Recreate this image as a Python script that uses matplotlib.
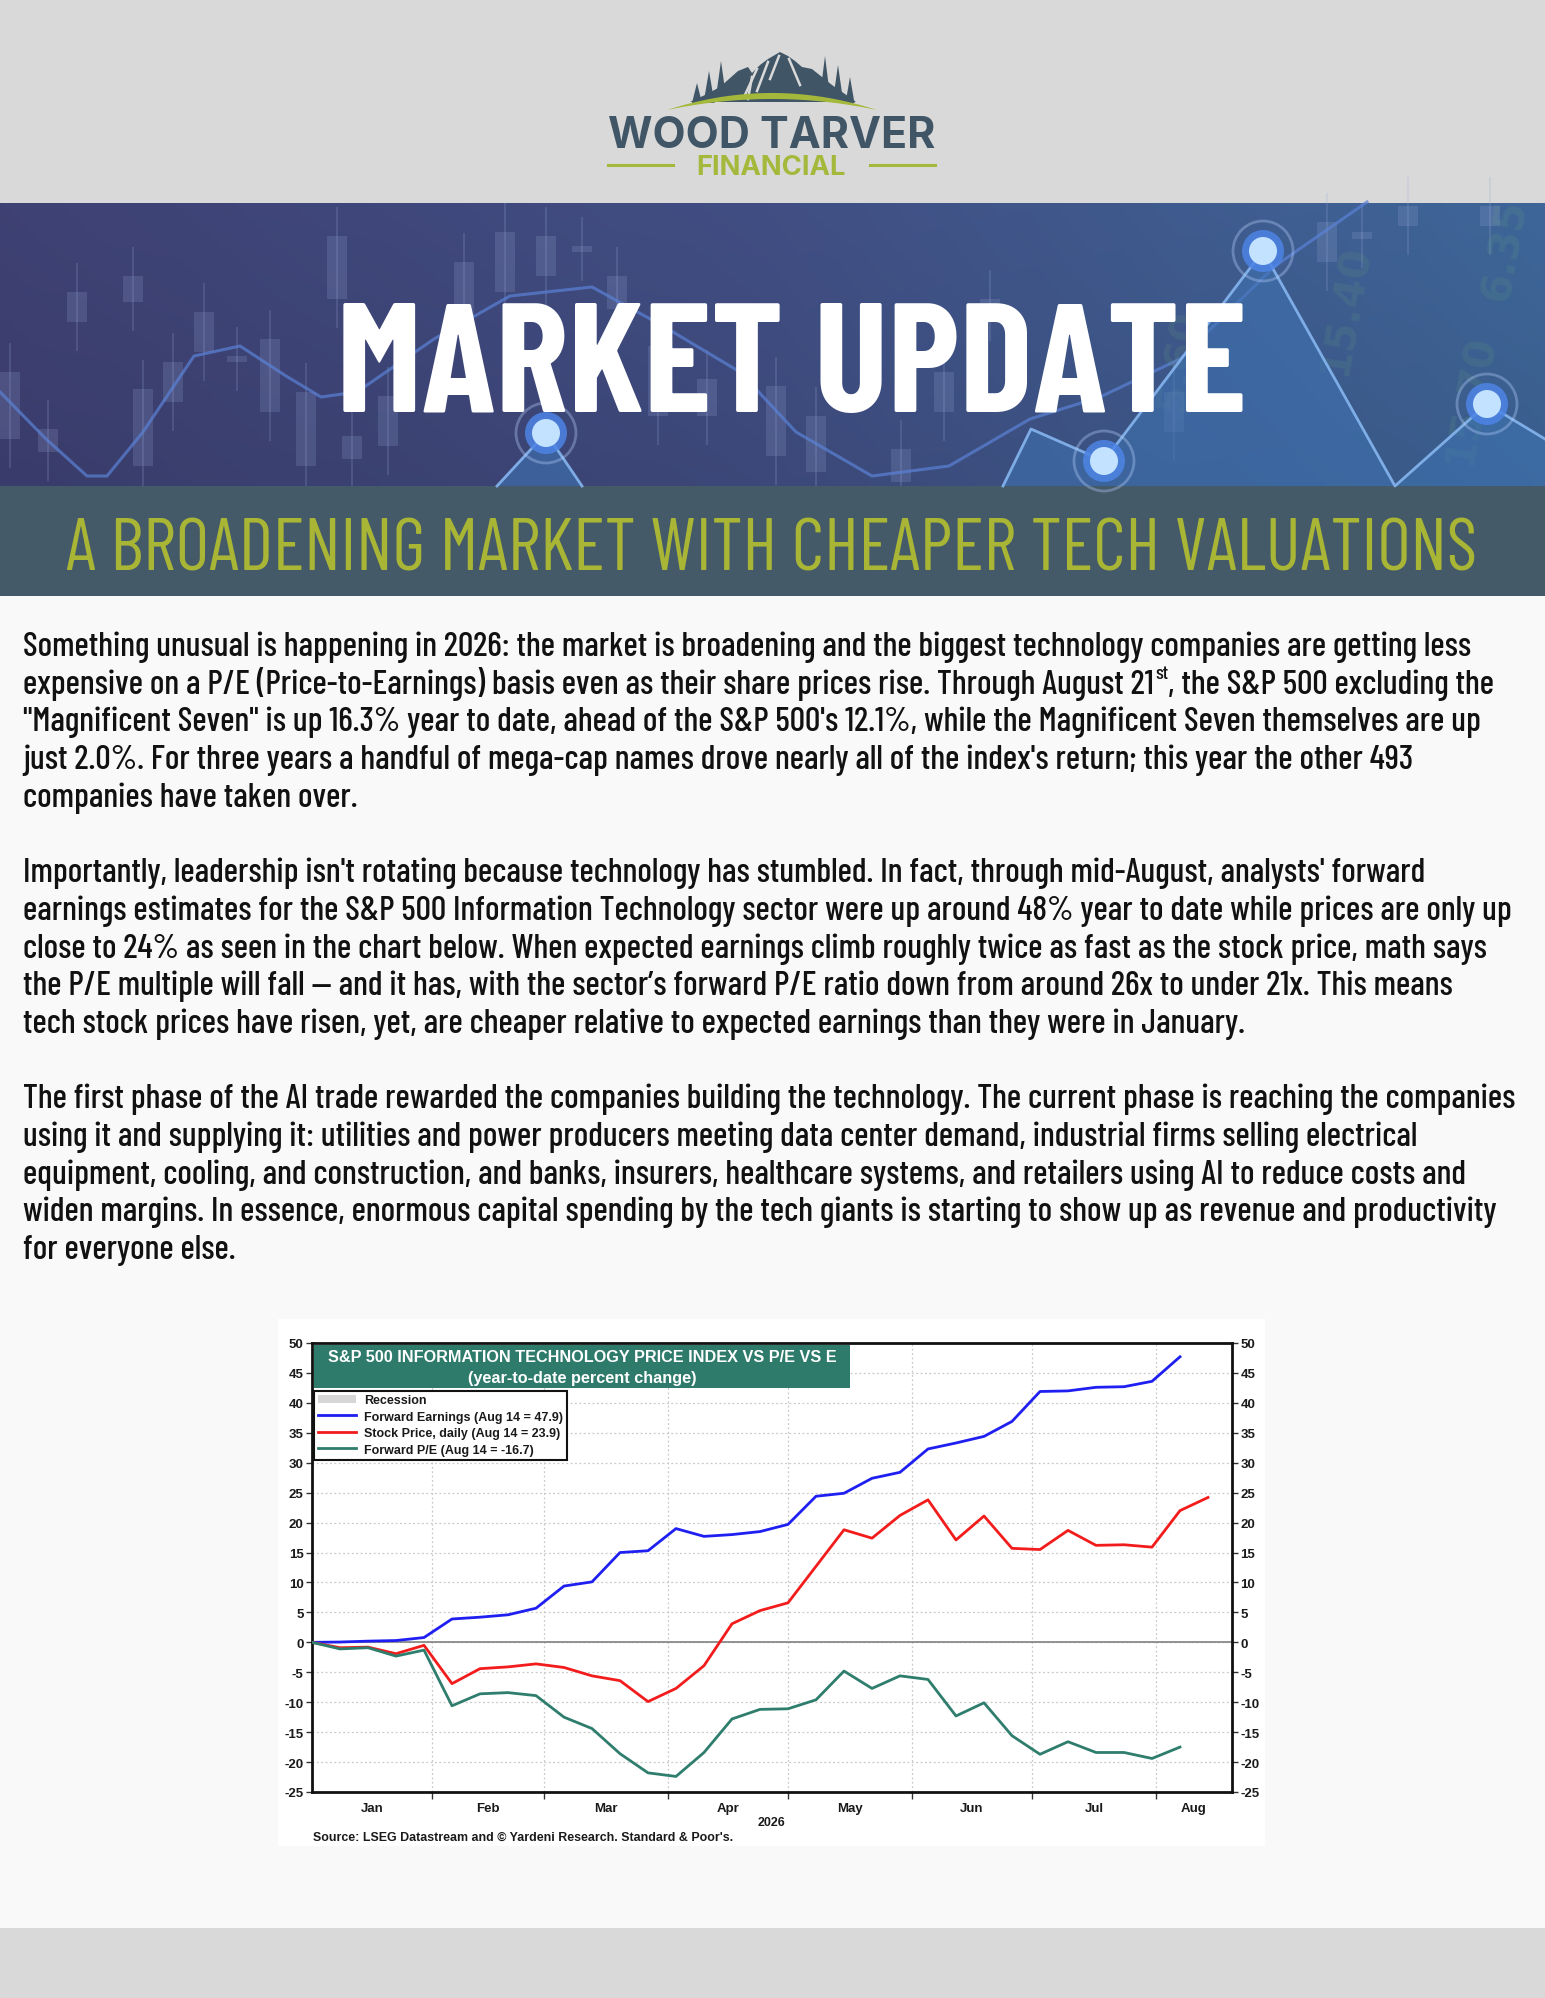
import os
import numpy as np
import matplotlib
matplotlib.use("Agg")
import matplotlib.pyplot as plt
import matplotlib.dates as mdates
from matplotlib import font_manager as fm
from matplotlib.font_manager import FontProperties
from matplotlib.patches import Rectangle, Polygon, Circle, Patch
from matplotlib.lines import Line2D
from matplotlib.ticker import FixedLocator, FixedFormatter, NullFormatter

# ---------------- chart data ----------------
week_dates = ["2026-01-02", "2026-01-09", "2026-01-16", "2026-01-23", "2026-01-30",
              "2026-02-06", "2026-02-13", "2026-02-20", "2026-02-27",
              "2026-03-06", "2026-03-13", "2026-03-20", "2026-03-27",
              "2026-04-03", "2026-04-10", "2026-04-17", "2026-04-24",
              "2026-05-01", "2026-05-08", "2026-05-15", "2026-05-22", "2026-05-29",
              "2026-06-05", "2026-06-12", "2026-06-19", "2026-06-26",
              "2026-07-03", "2026-07-10", "2026-07-17", "2026-07-24", "2026-07-31",
              "2026-08-07", "2026-08-14"]
forward_earnings = [0.0, 0.05, 0.2, 0.3, 0.8, 3.9, 4.2, 4.6, 5.7, 9.4, 10.1, 15.0, 15.3,
                    19.0, 17.7, 18.0, 18.5, 19.7, 24.4, 24.9, 27.4, 28.4, 32.3, 33.3, 34.4,
                    36.9, 41.9, 42.0, 42.6, 42.7, 43.6, 47.7]
stock_price = [0.0, -0.9, -0.8, -1.9, -0.5, -6.9, -4.4, -4.1, -3.6, -4.2, -5.6, -6.4, -9.9,
               -7.7, -3.9, 3.1, 5.3, 6.6, 12.7, 18.8, 17.4, 21.2, 23.8, 17.1, 21.1, 15.7,
               15.5, 18.7, 16.2, 16.3, 15.9, 22.0, 24.2]
forward_pe = [0.0, -1.1, -0.9, -2.3, -1.3, -10.6, -8.6, -8.4, -8.9, -12.5, -14.4, -18.6,
              -21.8, -22.4, -18.4, -12.8, -11.2, -11.1, -9.6, -4.8, -7.7, -5.6, -6.2, -12.3,
              -10.1, -15.6, -18.7, -16.6, -18.4, -18.4, -19.4, -17.5]
month_starts = ["2026-01-01", "2026-02-01", "2026-03-01", "2026-04-01", "2026-05-01",
                "2026-06-01", "2026-07-01", "2026-08-01"]
month_labels = ["Jan", "Feb", "Mar", "Apr", "May", "Jun", "Jul", "Aug"]
x_start, x_end = "2026-01-02", "2026-08-20"
y_ticks = [-25, -20, -15, -10, -5, 0, 5, 10, 15, 20, 25, 30, 35, 40, 45, 50]
legend_labels = ["Recession", "Forward Earnings (Aug 14 = 47.9)",
                 "Stock Price, daily (Aug 14 = 23.9)", "Forward P/E (Aug 14 = -16.7)"]
chart_title = "S&P 500 INFORMATION TECHNOLOGY PRICE INDEX VS P/E VS E"
chart_subtitle = "(year-to-date percent change)"
chart_source = "Source: LSEG Datastream and \u00a9 Yardeni Research. Standard & Poor's."
year_label = "2026"

# ---------------- page text ----------------
title_text = "MARKET UPDATE"
subtitle_text = "A BROADENING MARKET WITH CHEAPER TECH VALUATIONS"
logo_top = "WOOD TARVER"
logo_bottom = "FINANCIAL"
body_lines = [
    [("Something unusual is happening in 2026: the market is broadening and the biggest technology companies are getting less", "n")],
    [("expensive on a P/E (Price-to-Earnings) basis even as their share prices rise. Through August 21", "n"), ("st", "sup"), (", the S&P 500 excluding the", "n")],
    [("\"Magnificent Seven\" is up 16.3% year to date, ahead of the S&P 500's 12.1%, while the Magnificent Seven themselves are up", "n")],
    [("just 2.0%. For three years a handful of mega-cap names drove nearly all of the index's return; this year the other 493", "n")],
    [("companies have taken over.", "n")],
    None,
    [("Importantly, leadership isn't rotating because technology has stumbled. In fact, through mid-August, analysts' forward", "n")],
    [("earnings estimates for the S&P 500 Information Technology sector were up around 48% year to date while prices are only up", "n")],
    [("close to 24% as seen in the chart below. When expected earnings climb roughly twice as fast as the stock price, math says", "n")],
    [("the P/E multiple will fall \u2014 and it has, with the sector\u2019s forward P/E ratio down from around 26x to under 21x. This means", "n")],
    [("tech stock prices have risen, yet, are cheaper relative to expected earnings than they were in January.", "n")],
    None,
    [("The first phase of the AI trade rewarded the companies building the technology. The current phase is reaching the companies", "n")],
    [("using it and supplying it: utilities and power producers meeting data center demand, industrial firms selling electrical", "n")],
    [("equipment, cooling, and construction, and banks, insurers, healthcare systems, and retailers using AI to reduce costs and", "n")],
    [("widen margins. In essence, enormous capital spending by the tech giants is starting to show up as revenue and productivity", "n")],
    [("for everyone else.", "n")],
]
body_line_ends = [1470, None, 1507, 1414, None, None, 1416, 1510, 1478, 1472, 1228, None,
                  1504, 1412, 1462, 1481, None]

W, H = 1545, 1999
plt.rcParams["font.family"] = ["Liberation Sans", "DejaVu Sans"]
plt.rcParams["font.weight"] = "bold"
fig = plt.figure(figsize=(W / 100, H / 100), dpi=100)
fig.patch.set_facecolor("#f9f9f9")
renderer = fig.canvas.get_renderer()

bg = fig.add_axes([0, 0, 1, 1])
bg.set_zorder(0)
bg.axis("off")


def measure(s, fp, size):
    p = fp.copy()
    p.set_size(size)
    return renderer.get_text_width_height_descent(s, p, False)


def wnum(w):
    if isinstance(w, str):
        return fm.weight_dict.get(w, 400)
    return int(w)


def ok_name(nm):
    if any(k in nm for k in ("Mono", "CJK", "Math", "Slab", "Serif", "Symbol")):
        return False
    if nm.startswith("Noto Sans"):
        return nm in ("Noto Sans", "Noto Sans Display") or "Condensed" in nm
    return (nm.startswith(("DejaVu Sans", "Liberation Sans", "Roboto", "Open Sans", "Lato",
                           "Inter", "Oswald", "Bebas"))
            or "Condensed" in nm or "Narrow" in nm)


cand = {}
for f in fm.fontManager.ttflist:
    if f.style != "normal":
        continue
    fn = os.path.basename(f.fname).lower()
    if "italic" in fn or "oblique" in fn:
        continue
    if not ok_name(f.name):
        continue
    cand[f.fname] = f
cand = list(cand.values())


def best_font(sample, target_ratio, wmin, wmax):
    best = None
    for f in cand:
        wt = wnum(f.weight)
        if not (wmin <= wt <= wmax):
            continue
        fp = FontProperties(fname=f.fname)
        try:
            w, _, _ = measure(sample, fp, 40)
            _, hc, dc = measure("H", fp, 40)
        except Exception:
            continue
        if hc - dc <= 0 or w <= 0:
            continue
        score = abs(np.log((w / (hc - dc)) / target_ratio))
        if best is None or score < best[0]:
            best = (score, fp)
    if best is None:
        return FontProperties(family="DejaVu Sans", weight="bold" if wmin >= 600 else "normal")
    return best[1]


def fit_size(s, fp, target_w):
    w, _, _ = measure(s, fp, 40)
    return 40.0 * target_w / w


fp_body = best_font(body_lines[0][0][0], 59.0, 480, 620)
fp_title = best_font(title_text, 8.3, 700, 950)
fp_sub = best_font(subtitle_text, 27.1, 300, 500)
fp_logo = best_font(logo_top, 10.3, 550, 750)

# ---------------- page background blocks ----------------
bg.add_patch(Rectangle((0, 0), W, 204, facecolor="#d9d9d9", edgecolor="none", zorder=0))
bg.add_patch(Rectangle((0, 1929), W, H - 1929, facecolor="#d9d9d9", edgecolor="none", zorder=0))

# banner gradient
nx, ny = 400, 60
t = np.linspace(0, 1, nx)
c_left = np.array([0.235, 0.245, 0.435])
c_mid = np.array([0.245, 0.295, 0.495])
c_right = np.array([0.235, 0.385, 0.575])
row = np.where(t[:, None] < 0.5, c_left + (c_mid - c_left) * (t[:, None] / 0.5),
               c_mid + (c_right - c_mid) * ((t[:, None] - 0.5) / 0.5))
v = np.linspace(0, 1, ny)[:, None, None]
grad = row[None, :, :] * (1.04 - 0.08 * v)
bg.imshow(np.clip(grad, 0, 1), extent=(0, W, 487, 204), aspect="auto", zorder=1,
          interpolation="bilinear")

# decorative candlesticks
candles = [(10, 373, 440), (48, 430, 453), (77, 293, 323), (133, 277, 303), (143, 390, 467),
           (173, 363, 403), (204, 313, 353), (237, 357, 363), (270, 340, 413), (306, 393, 467),
           (337, 237, 300), (352, 437, 460), (388, 397, 447), (464, 263, 320), (505, 233, 293),
           (546, 237, 277), (582, 247, 253), (617, 277, 310), (658, 347, 417), (707, 380, 417),
           (776, 387, 457), (816, 417, 473), (901, 450, 483), (944, 373, 413), (990, 300, 313),
           (1174, 393, 433), (1327, 223, 263), (1362, 233, 240), (1408, 207, 227),
           (1490, 207, 227)]
for cx, top, bot in candles:
    bg.add_patch(Rectangle((cx - 10, top), 20, bot - top, facecolor="#9aaad8", alpha=0.2,
                           edgecolor="none", zorder=2))
    bg.plot([cx, cx], [top - 28, bot + 28], color="#9aaad8", alpha=0.2, lw=1.5, zorder=2)

wave_x = [0, 46, 87, 107, 143, 194, 240, 286, 321, 357, 434, 510, 592, 663, 740, 796, 872,
          949, 1030, 1100, 1180, 1275, 1367]
wave_y = [393, 440, 477, 477, 433, 357, 347, 377, 398, 393, 340, 297, 288, 327, 373, 433, 477,
          467, 420, 398, 360, 267, 203]
bg.plot(wave_x, wave_y, color="#5b82d6", lw=2.2, alpha=0.7, zorder=3)

# decorative faint numbers
for (nx_, ny_, s, rot) in [(1505, 250, "6.35", 80), (1470, 400, "15.70", 80),
                           (1345, 310, "15.40", 80), (1180, 360, "5.60", 80)]:
    bg.text(nx_, ny_, s, color="#6fae7a", alpha=0.14, fontsize=30, rotation=rot,
            ha="center", va="center", zorder=3, family="DejaVu Sans")

# mountain shapes on the right
bg.add_patch(Polygon([(1003, 487), (1031, 430), (1104, 462), (1263, 252), (1395, 487)],
                     closed=True, facecolor="#3f74b4", alpha=0.55, edgecolor="none", zorder=3))
bg.add_patch(Polygon([(1395, 487), (1487, 405), (1545, 440), (1545, 487)], closed=True,
                     facecolor="#3f74b4", alpha=0.55, edgecolor="none", zorder=3))
bg.add_patch(Polygon([(497, 487), (546, 434), (582, 487)], closed=True,
                     facecolor="#3f74b4", alpha=0.6, edgecolor="none", zorder=3))
bg.plot([1003, 1031, 1104, 1263, 1395, 1487, 1545], [487, 430, 462, 252, 487, 405, 440],
        color="#86b6f0", lw=2, alpha=0.9, zorder=4)
bg.plot([497, 546, 582], [487, 434, 487], color="#86b6f0", lw=2, alpha=0.9, zorder=4)
for (gx, gy) in [(546, 434), (1104, 462), (1263, 252), (1487, 405)]:
    bg.add_patch(Circle((gx, gy), 30, facecolor="none", edgecolor="#b8d2ff", lw=2, alpha=0.35,
                        zorder=4))
    bg.add_patch(Circle((gx, gy), 21, facecolor="#4d84e6", alpha=0.85, edgecolor="none",
                        zorder=4))
    bg.add_patch(Circle((gx, gy), 14, facecolor="#c2e2ff", edgecolor="none", zorder=5))

# banner title
sz = fit_size(title_text, fp_title, 911)
bg.text(792, 412, title_text, fontproperties=fp_title, fontsize=sz, color="#ffffff",
        ha="center", va="baseline", zorder=10)

# subtitle band
bg.add_patch(Rectangle((0, 487), W, 110, facecolor="#455a69", edgecolor="none", zorder=2))
sz = fit_size(subtitle_text, fp_sub, 1411)
bg.text(772, 570, subtitle_text, fontproperties=fp_sub, fontsize=sz, color="#a9b535",
        ha="center", va="baseline", zorder=10)

# ---------------- logo ----------------
slate = "#405667"
green = "#a4b93b"
mountain = [(690, 103), (705, 96), (720, 88), (738, 72), (748, 68), (752, 74), (760, 66),
            (768, 60), (780, 53), (788, 57), (795, 62), (802, 68), (812, 70), (822, 78),
            (832, 86), (845, 95), (856, 103)]
bg.add_patch(Polygon(mountain, closed=True, facecolor=slate, edgecolor="none", zorder=2))
for (xa, ya, xb, yb) in [(757, 70, 744, 98), (768, 63, 757, 92), (779, 57, 770, 80),
                         (789, 60, 800, 86), (752, 78, 748, 100)]:
    bg.plot([xa, xb], [ya, yb], color="#d9d9d9", lw=1.8, zorder=3)
trees = [(697, 84, 104, 10), (709, 72, 104, 11), (721, 62, 101, 11),
         (825, 57, 101, 11), (838, 66, 101, 10), (850, 78, 104, 9)]
for (tx, ttop, tbase, tw) in trees:
    bg.add_patch(Polygon([(tx - tw / 2, tbase), (tx, ttop), (tx + tw / 2, tbase)], closed=True,
                         facecolor=slate, edgecolor="none", zorder=3))
arc_x = np.linspace(667, 877, 60)
u = (arc_x - 772) / 105.0
up = 111 - 17 * (1 - u ** 2)
lo = 111 - 11 * (1 - u ** 2)
bg.add_patch(Polygon(np.column_stack([np.r_[arc_x, arc_x[::-1]], np.r_[up, lo[::-1]]]),
                     closed=True, facecolor=green, edgecolor="none", zorder=4))
sz = fit_size(logo_top, fp_logo, 327)
bg.text(771.5, 148, logo_top, fontproperties=fp_logo, fontsize=sz, color=slate,
        ha="center", va="baseline", zorder=5)
sz = fit_size(logo_bottom, fp_logo, 150)
bg.text(771, 175, logo_bottom, fontproperties=fp_logo, fontsize=sz, color=green,
        ha="center", va="baseline", zorder=5)
bg.plot([608, 673], [166, 166], color=green, lw=2.2, zorder=5)
bg.plot([870, 935], [166, 166], color=green, lw=2.2, zorder=5)

# ---------------- body text ----------------
sizes = []
for segs, end in zip(body_lines, body_line_ends):
    if segs is None or end is None or len(segs) != 1:
        continue
    sizes.append(fit_size(segs[0][0], fp_body, end - 23))
body_size = float(np.median(sizes))
base0, lstep = 656, 37.7
for i, segs in enumerate(body_lines):
    if segs is None:
        continue
    x = 23.0
    y = base0 + lstep * i
    for s, kind in segs:
        if kind == "sup":
            tt = bg.text(x + 1, y - body_size * 0.42 * 100 / 72, s, fontproperties=fp_body,
                         fontsize=body_size * 0.58, color="#111111", va="baseline", zorder=5)
            x += tt.get_window_extent(renderer).width + 1
        else:
            tt = bg.text(x, y, s, fontproperties=fp_body, fontsize=body_size,
                         color="#111111", va="baseline", zorder=5)
            x += tt.get_window_extent(renderer).width

# ---------------- chart ----------------
bg.add_patch(Rectangle((278, 1320), 987, 527, facecolor="white", edgecolor="none", zorder=1))
fpb = FontProperties(family=["Liberation Sans", "DejaVu Sans"], weight="bold")

ax = fig.add_axes([312 / W, 1 - 1793 / H, 920 / W, 449 / H])
ax.set_zorder(2)
ax.set_facecolor("white")
dn = mdates.date2num(np.array(week_dates, dtype="datetime64[D]"))
c_blue, c_red, c_green = "#1f1ff2", "#f21c1c", "#2e7d6d"
ax.axhline(0, color="#808080", lw=1.2, zorder=2)
ax.plot(dn[:len(forward_earnings)], forward_earnings, color=c_blue, lw=2.0, zorder=4)
ax.plot(dn[:len(stock_price)], stock_price, color=c_red, lw=2.0, zorder=4)
ax.plot(dn[:len(forward_pe)], forward_pe, color=c_green, lw=2.0, zorder=4)

x0 = mdates.date2num(np.datetime64(x_start))
x1 = mdates.date2num(np.datetime64(x_end))
ax.set_xlim(x0, x1)
ax.set_ylim(-25, 50)
ms = mdates.date2num(np.array(month_starts, dtype="datetime64[D]"))
bounds = [m for m in ms if x0 < m < x1]
edges = list(np.clip(ms, x0, x1)) + [x1]
centers = [(edges[k] + edges[k + 1]) / 2 for k in range(len(month_labels))]
ax.xaxis.set_major_locator(FixedLocator(bounds))
ax.xaxis.set_major_formatter(NullFormatter())
ax.xaxis.set_minor_locator(FixedLocator(centers))
ax.xaxis.set_minor_formatter(FixedFormatter(month_labels))
ax.yaxis.set_major_locator(FixedLocator(y_ticks))
ax.yaxis.set_major_formatter(FixedFormatter([str(v) for v in y_ticks]))
ax.tick_params(axis="x", which="major", direction="out", length=5, width=1, color="#333333")
ax.tick_params(axis="x", which="minor", length=0, pad=7, labelsize=9.5, labelcolor="#1a1a1a")
ax.tick_params(axis="y", which="major", direction="out", length=4, width=1, left=True,
               right=True, labelleft=True, labelright=True, labelsize=9.5, pad=2,
               labelcolor="#1a1a1a", color="#333333")
ax.grid(True, which="major", linestyle=(0, (1.5, 2)), color="#c9c9c9", lw=0.9, zorder=1)
for sp in ax.spines.values():
    sp.set_linewidth(2.0)
    sp.set_color("#111111")

# title box
ax.add_patch(Rectangle((0.002, 0.8998), 0.583, 0.0957, transform=ax.transAxes,
                       facecolor="#2e7b6c", edgecolor="none", zorder=5))
ts = fit_size(chart_title, fpb, 506)
ax.text(0.2935, 0.971, chart_title, transform=ax.transAxes, fontproperties=fpb, fontsize=ts,
        color="white", ha="center", va="center", zorder=6)
ss = fit_size(chart_subtitle, fpb, 228)
ax.text(0.2935, 0.924, chart_subtitle, transform=ax.transAxes, fontproperties=fpb,
        fontsize=ss, color="white", ha="center", va="center", zorder=6)

# legend
ls = fit_size(legend_labels[1], fpb, 198)
lfp = fpb.copy()
lfp.set_size(ls)
handles = [Patch(facecolor="#d6d6d6", edgecolor="none"),
           Line2D([], [], color=c_blue, lw=2), Line2D([], [], color=c_red, lw=2),
           Line2D([], [], color=c_green, lw=2)]
leg = ax.legend(handles, legend_labels, loc="upper left", bbox_to_anchor=(0.002, 0.894),
                bbox_transform=ax.transAxes, prop=lfp, frameon=True, fancybox=False,
                borderpad=0.3, handlelength=3.1, handleheight=0.7, handletextpad=0.6,
                labelspacing=0.36, borderaxespad=0.0)
leg.get_frame().set_edgecolor("#111111")
leg.get_frame().set_linewidth(1.5)
leg.get_frame().set_facecolor("white")
leg.get_frame().set_alpha(1)
for txt in leg.get_texts():
    txt.set_color("#1a1a1a")
leg.set_zorder(7)

# year + source
bg.text(772, 1823, year_label, fontproperties=fpb, fontsize=9, color="#1a1a1a",
        ha="center", va="center", zorder=3)
srs = fit_size(chart_source, fpb, 415)
bg.text(313, 1838, chart_source, fontproperties=fpb, fontsize=srs, color="#1a1a1a",
        ha="left", va="center", zorder=3)

bg.set_xlim(0, W)
bg.set_ylim(H, 0)
fig.savefig("out.png", dpi=100, facecolor=fig.get_facecolor())
